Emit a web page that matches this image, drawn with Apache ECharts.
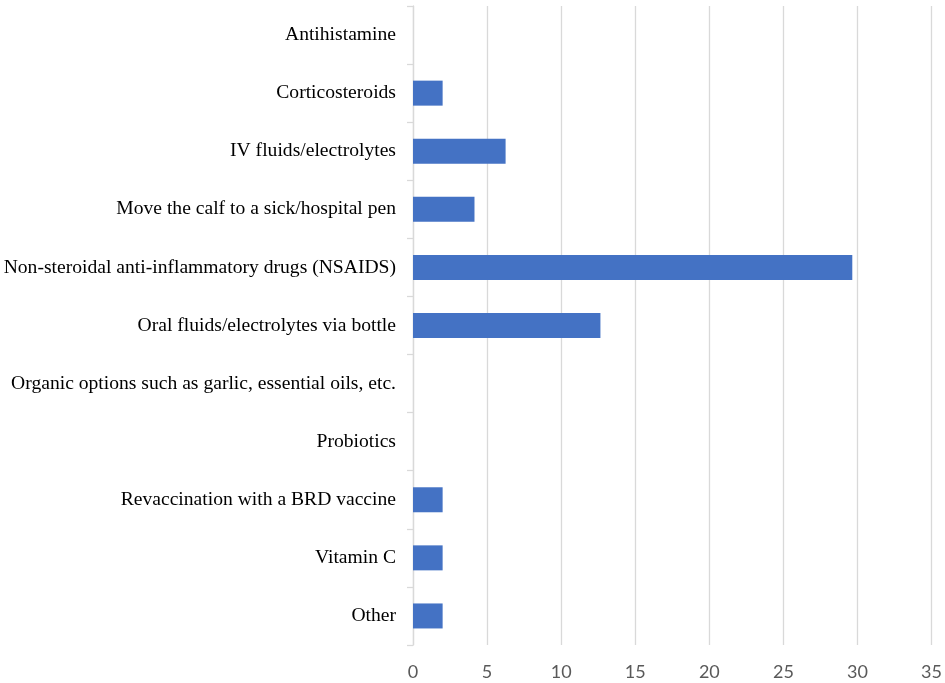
<!DOCTYPE html>
<html>
<head>
    <meta charset="utf-8">
    <title>ECharts</title>
    <script src="https://cdn.jsdelivr.net/npm/echarts@6/dist/echarts.min.js"></script>
    <style>
        html, body { margin: 0; padding: 0; background: #fff; }
    </style>
</head>
<body>
    <div id="main" style="width: 945px;height:683px;"></div>
    <script type="text/javascript">
// categories, top to bottom
var treatments = [
    'Antihistamine',
    'Corticosteroids',
    'IV fluids/electrolytes',
    'Move the calf to a sick/hospital pen',
    'Non-steroidal anti-inflammatory drugs (NSAIDS)',
    'Oral fluids/electrolytes via bottle',
    'Organic options such as garlic, essential oils, etc.',
    'Probiotics',
    'Revaccination with a BRD vaccine',
    'Vitamin C',
    'Other'
];
var percents = [0, 2.0, 6.25, 4.15, 29.65, 12.65, 0, 0, 2.0, 2.0, 2.0];
var xTicks = [0, 5, 10, 15, 20, 25, 30, 35];

var myChart = echarts.init(document.getElementById('main'));
var option = {
    animation: false,
    grid: {
        left: 413,
        right: 12,
        top: 6,
        bottom: 38
    },
    xAxis: {
        type: 'value',
        min: xTicks[0],
        max: xTicks[xTicks.length - 1],
        interval: 5,
        axisLine: { show: false },
        axisTick: { show: false },
        splitLine: { lineStyle: { color: '#d9d9d9', width: 1.3 } },
        axisLabel: {
            color: '#595959',
            fontFamily: 'Lato',
            fontSize: 18,
            margin: 18
        }
    },
    yAxis: {
        type: 'category',
        inverse: true,
        data: treatments,
        axisLine: { lineStyle: { color: '#d9d9d9', width: 1.3 } },
        axisTick: { show: true, length: 6, lineStyle: { color: '#d9d9d9', width: 1.3 } },
        axisLabel: {
            color: '#000',
            fontFamily: 'Liberation Serif',
            fontSize: 19.6,
            margin: 17
        }
    },
    series: [{
        type: 'bar',
        data: percents,
        barWidth: 25,
        itemStyle: { color: '#4472C4' }
    }]
};
myChart.setOption(option);
    </script>
</body>
</html>
